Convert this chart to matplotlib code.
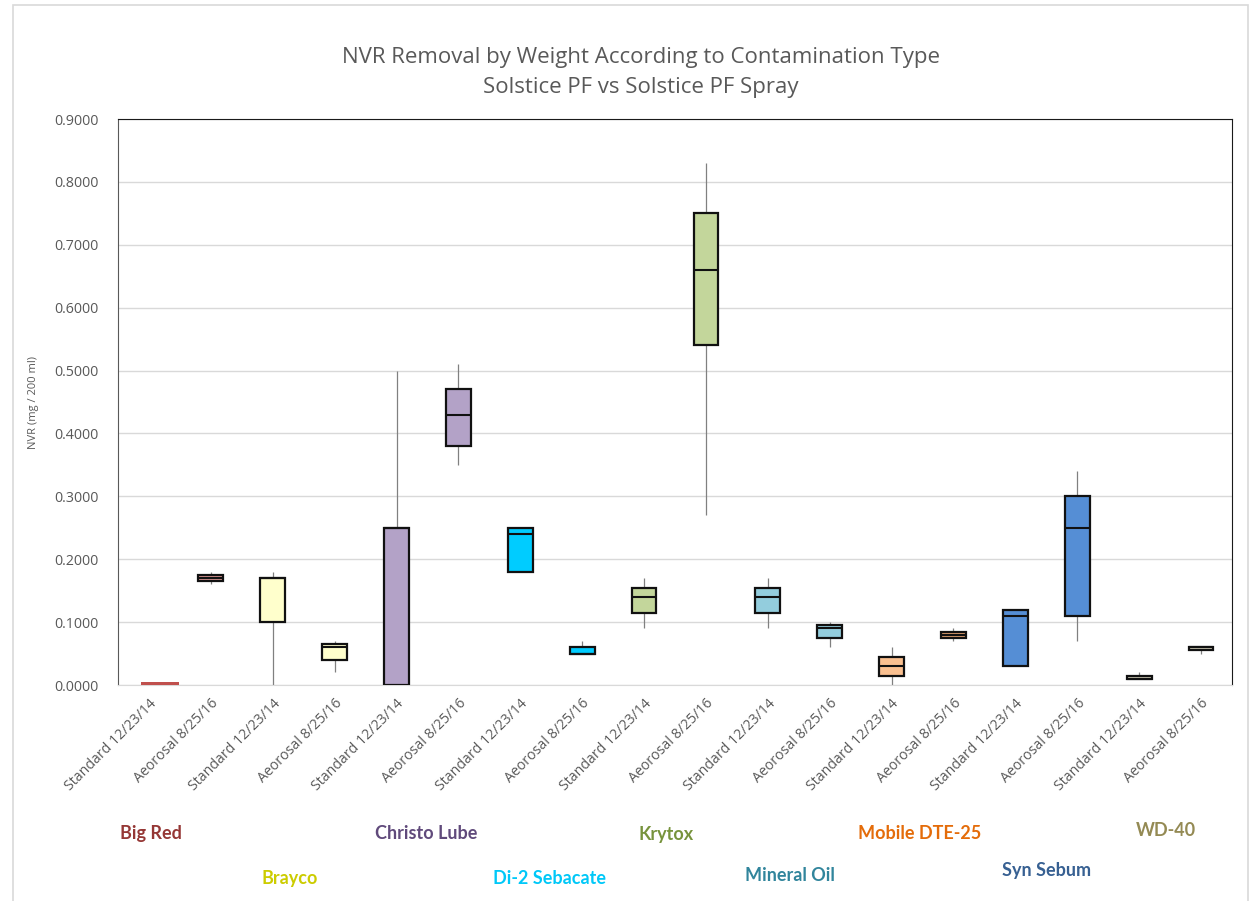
#!/usr/bin/env python3

import matplotlib
matplotlib.use('Agg')
import matplotlib.pyplot as plt
import matplotlib.transforms as mtransforms
from matplotlib.patches import Rectangle

groups = ['Big Red', 'Brayco', 'Christo Lube', 'Di-2 Sebacate', 'Krytox',
          'Mineral Oil', 'Mobile DTE-25', 'Syn Sebum', 'WD-40']
tick_labels = ['Standard 12/23/14', 'Aeorosal 8/25/16'] * len(groups)

# one value per box, in slot order (standard, aerosol for each group)
whisker_low = [0.000, 0.160, 0.000, 0.020, 0.000, 0.350, 0.180, 0.050, 0.090,
               0.270, 0.090, 0.060, 0.000, 0.070, 0.030, 0.070, 0.010, 0.050]
q1 = [0.000, 0.165, 0.100, 0.040, 0.000, 0.380, 0.180, 0.050, 0.115,
      0.540, 0.115, 0.075, 0.015, 0.075, 0.030, 0.110, 0.010, 0.055]
median = [0.000, 0.170, 0.170, 0.060, 0.250, 0.430, 0.240, 0.050, 0.140,
          0.660, 0.140, 0.090, 0.030, 0.080, 0.110, 0.250, 0.010, 0.060]
q3 = [0.005, 0.175, 0.170, 0.065, 0.250, 0.470, 0.250, 0.060, 0.155,
      0.750, 0.155, 0.095, 0.045, 0.085, 0.120, 0.300, 0.015, 0.060]
whisker_high = [0.005, 0.180, 0.180, 0.070, 0.500, 0.510, 0.250, 0.070, 0.170,
                0.830, 0.170, 0.100, 0.060, 0.090, 0.120, 0.340, 0.020, 0.060]

box_colors = ['#C0504D', '#D99694', '#FFFFCC', '#FFFFCC', '#B3A2C7', '#B3A2C7',
              '#00CCFF', '#00CCFF', '#C3D69B', '#C3D69B', '#93CDDD', '#93CDDD',
              '#FAC090', '#E0A070', '#558ED5', '#558ED5', '#DDD9C3', '#DDD9C3']
label_colors = ['#953735', '#CCCC00', '#604A7B', '#00C8F8', '#77933C',
                '#31859C', '#E46C0A', '#376092', '#948A54']
label_x = [0.03, 2.28, 4.48, 6.48, 8.35, 10.36, 12.46, 14.5, 16.43]
label_y = [0.075, 0.025, 0.075, 0.025, 0.074, 0.028, 0.075, 0.034, 0.078]

text_grey = '#595959'


def main():
    fig = plt.figure(figsize=(12.53, 9.01), dpi=100)
    ax = fig.add_axes([0.0942, 0.2397, 0.8890, 0.6282])

    fig.patches.append(Rectangle((13 / 1253, -0.1), 1235 / 1253, 1.1 - 5 / 901,
                                 transform=fig.transFigure, fill=False,
                                 edgecolor='#D9D9D9', linewidth=1.2))

    xs = list(range(len(q1)))
    for i in xs:
        if i == 0:
            # Big Red standard shows only as a thin red strip
            ax.bar(i + 0.18, q3[i] - q1[i], bottom=q1[i], width=0.62,
                   color=box_colors[i], edgecolor='none', zorder=3)
            continue
        ax.vlines(i, whisker_low[i], whisker_high[i], color='#808080', lw=0.9, zorder=2)
        ax.bar(i, q3[i] - q1[i], bottom=q1[i], width=0.4, color=box_colors[i],
               edgecolor='#111111', linewidth=1.6, zorder=3)
        ax.hlines(median[i], i - 0.2, i + 0.2, color='#111111', lw=1.5, zorder=4)

    ax.set_xlim(-0.5, len(q1) - 0.5)
    ax.set_ylim(0, 0.9)
    ax.set_yticks([k / 10 for k in range(10)])
    ax.set_yticklabels(['{:.4f}'.format(k / 10) for k in range(10)],
                       fontsize=10.3, color=text_grey, family='Open Sans')
    ax.set_xticks(xs)
    ax.set_xticklabels(tick_labels, rotation=45, ha='right', va='top',
                       rotation_mode='anchor', fontsize=10.2, color=text_grey,
                       family='Open Sans')
    ax.tick_params(axis='both', length=0)
    ax.tick_params(axis='y', pad=14)
    ax.tick_params(axis='x', pad=8)
    ax.grid(axis='y', color='#D9D9D9', lw=1)
    ax.set_axisbelow(True)
    for side in ['top', 'right']:
        ax.spines[side].set_color('#1A1A1A')
    ax.spines['left'].set_color('#595959')
    ax.spines['bottom'].set_color('#D9D9D9')

    ax.set_ylabel('NVR (mg / 200 ml)', fontsize=8, color=text_grey,
                  family='Open Sans', labelpad=11)

    fig.text(0.5116, 1 - 57 / 901, 'NVR Removal by Weight According to Contamination Type',
             ha='center', va='center', fontsize=16, color=text_grey, family='Open Sans')
    fig.text(0.5116, 1 - 88 / 901, 'Solstice PF vs Solstice PF Spray',
             ha='center', va='center', fontsize=16, color=text_grey, family='Open Sans')

    trans = mtransforms.blended_transform_factory(ax.transData, fig.transFigure)
    for name, color, x, y in zip(groups, label_colors, label_x, label_y):
        ax.text(x, y, name, transform=trans, ha='center', va='center',
                fontsize=13, fontweight='bold', color=color, family='Lato',
                clip_on=False)

    fig.savefig('out.png', dpi=100)


if __name__ == '__main__':
    main()
